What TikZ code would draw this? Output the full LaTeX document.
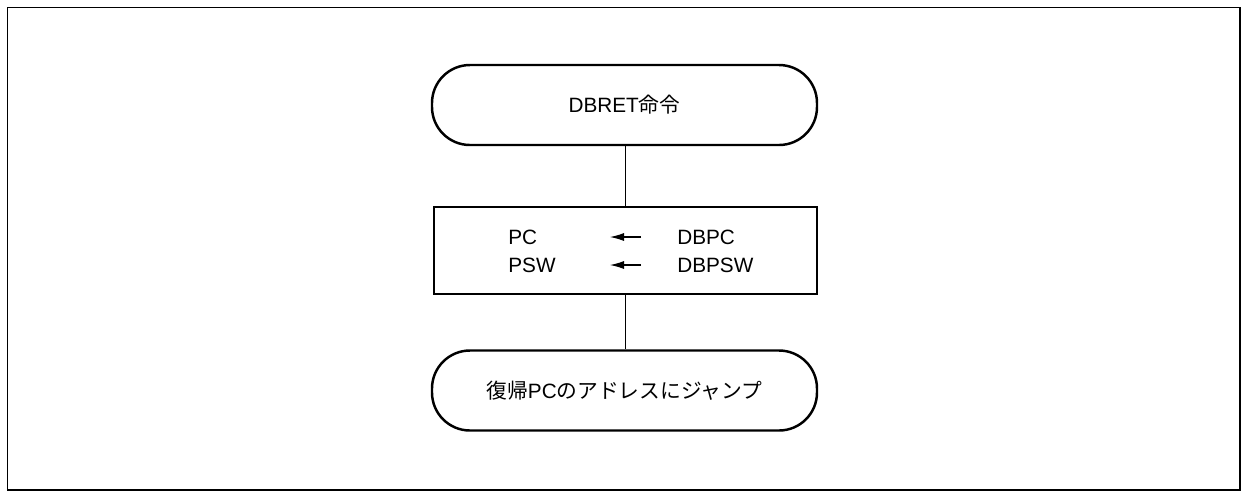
\documentclass[tikz,border=0pt]{standalone}
\usepackage{fontspec}
\setmainfont{Liberation Sans}
\newfontfamily\cjk{Noto Sans CJK JP}
\usetikzlibrary{arrows.meta}

\tikzset{
    terminal/.style={draw, line width=1.4pt, rounded corners=0.76cm, minimum width=7.7cm, minimum height=1.6cm, font=\fontsize{11.8}{14}\selectfont},
    regbox/.style={draw, line width=1.4pt, minimum width=7.66cm, minimum height=1.74cm},
    regtext/.style={anchor=west, inner sep=0pt, font=\fontsize{11.8}{14}\selectfont},
    link/.style={line width=0.5pt},
    movearrow/.style={line width=0.6pt, -{Latex[length=2.8mm, width=1.6mm]}}
}

\begin{document}
\begin{tikzpicture}
    \useasboundingbox (0, 0) rectangle (24.84, -9.86);
    % Outer frame
    \draw[line width=1.1pt] (0.15, -0.15) rectangle (24.80, -9.80);

    % Flow nodes
    \node[terminal] (dbret) at (12.49, -2.10) {DBRET{\cjk 命令}};
    \node[regbox] (regs) at (12.51, -5.01) {};
    \node[terminal] (jump) at (12.49, -7.81) {{\cjk 復帰}PC{\cjk のアドレスにジャンプ}};

    % Register transfers
    \node[regtext] (pc) at (10.16, -4.74) {PC};
    \node[regtext] (dbpc) at (13.54, -4.74) {DBPC};
    \node[regtext] (psw) at (10.16, -5.30) {PSW};
    \node[regtext] (dbpsw) at (13.54, -5.30) {DBPSW};
    \coordinate (pcfrom) at (12.82, -4.74);
    \coordinate (pcto) at (12.20, -4.74);
    \coordinate (pswfrom) at (12.82, -5.30);
    \coordinate (pswto) at (12.20, -5.30);
    \draw[movearrow] (pcfrom) -- (pcto);
    \draw[movearrow] (pswfrom) -- (pswto);

    % Connectors
    \draw[link] (dbret.south -| regs.north) -- (regs.north);
    \draw[link] (regs.south) -- (jump.north -| regs.south);
\end{tikzpicture}
\end{document}
